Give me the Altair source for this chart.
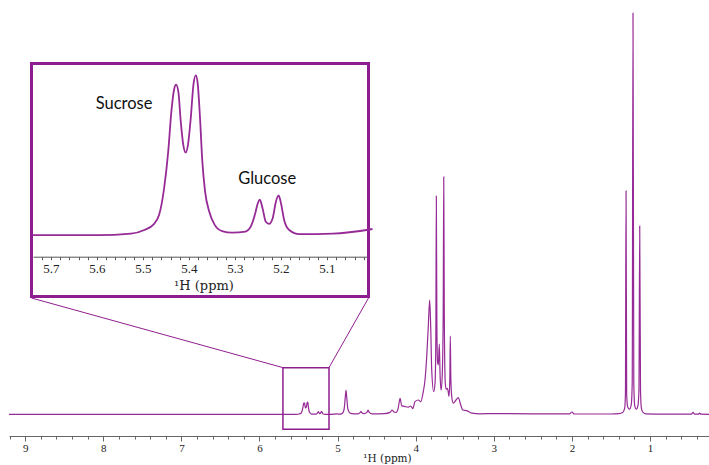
import altair as alt
import pandas as pd

# ---------------- data ----------------
# main spectrum (ppm, intensity) outside the zoomed window
ppm_main = [9.207, 7.5, 6.0, 5.76,
            4.98, 4.95, 4.93, 4.915, 4.903, 4.892, 4.882, 4.87, 4.85, 4.82,
            4.74, 4.71, 4.70, 4.69, 4.66, 4.625, 4.61, 4.595, 4.56,
            4.40, 4.33, 4.30, 4.28, 4.25, 4.225, 4.20, 4.18, 4.137, 4.095, 4.064, 4.038,
            4.009, 3.966, 3.936, 3.903, 3.881, 3.859, 3.839, 3.821, 3.808, 3.795,
            3.770, 3.752, 3.742, 3.736, 3.729, 3.720, 3.710, 3.698, 3.688, 3.675,
            3.660, 3.648, 3.641, 3.634, 3.622, 3.610, 3.595, 3.585, 3.574, 3.563,
            3.557, 3.550, 3.539, 3.519, 3.484, 3.455, 3.424, 3.398, 3.347, 3.283,
            3.177, 3.0, 2.5, 2.03, 2.0, 1.97, 1.5, 1.40, 1.35, 1.325, 1.315, 1.307,
            1.299, 1.285, 1.262, 1.24, 1.228, 1.218, 1.208, 1.196, 1.175, 1.155,
            1.142, 1.132, 1.122, 1.11, 1.09, 1.05, 0.8, 0.47, 0.45, 0.43, 0.38,
            0.365, 0.35, 0.245]
int_main = [0.0, 0.0, 0.0, 0.0,
            0.05, 0.15, 0.5, 1.5, 4.0, 6.0, 4.0, 1.5, 0.5, 0.2,
            0.15, 0.5, 0.75, 0.4, 0.2, 0.5, 1.1, 0.5, 0.15,
            0.2, 0.5, 1.1, 0.6, 0.5, 1.5, 4.0, 2.2, 1.95, 1.8, 2.1, 1.45,
            3.2, 3.6, 3.2, 5.7, 8.6, 14.5, 22.0, 28.6, 22.0, 11.1,
            5.7, 8.0, 20.0, 54.6, 22.0, 13.0, 12.4, 17.6, 10.0, 6.1,
            10.0, 25.0, 59.4, 25.0, 8.0, 6.3, 6.5, 5.8, 4.5, 9.0,
            19.6, 9.0, 4.5, 2.8, 3.6, 4.2, 2.4, 1.1, 0.95, 0.3,
            0.15, 0.2, 0.15, 0.15, 0.6, 0.1, 0.1, 0.2, 0.5, 1.5, 5.0, 55.9,
            5.0, 1.8, 1.3, 2.5, 8.0, 100.4, 8.0, 2.2, 1.3, 2.2,
            6.0, 47.1, 6.0, 1.5, 0.5, 0.15, 0.05, 0.05, 0.5, 0.05, 0.05,
            0.35, 0.05, 0.0]

# zoomed window (at higher resolution)
ppm_zoom = [5.739, 5.599, 5.526, 5.497, 5.478, 5.465, 5.454, 5.445, 5.438, 5.432,
            5.428, 5.423, 5.418, 5.412, 5.407, 5.402, 5.396, 5.390, 5.385, 5.381,
            5.376, 5.371, 5.365, 5.356, 5.344, 5.328, 5.306, 5.277, 5.266, 5.256,
            5.251, 5.246, 5.240, 5.233, 5.226, 5.218, 5.211, 5.205, 5.200, 5.193,
            5.182, 5.160, 5.087, 5.001]
int_zoom = [0.0, 0.0, 0.03, 0.10, 0.20, 0.39, 0.91, 1.63, 2.42, 2.84,
            2.92, 2.78, 2.22, 1.73, 1.60, 1.76, 2.28, 2.94, 3.10, 2.94,
            2.28, 1.44, 0.85, 0.46, 0.20, 0.08, 0.05, 0.07, 0.16, 0.42,
            0.60, 0.69, 0.52, 0.26, 0.22, 0.33, 0.65, 0.77, 0.62, 0.29,
            0.10, 0.02, 0.03, 0.12]

label_text = ["Sucrose", "Glucose"]
label_ppm = [5.541, 5.230]
label_int = [2.54, 1.09]

# zoom window marked on the main spectrum
box_ppm = [5.70, 5.11]
box_int = [11.7, -3.7]

# ---------------- layout ----------------
W, H = 700, 431
XD = [9.207, 0.245]
YD = [-5.4, 102.4]
IX_RANGE = [24, 358]
IY_RANGE = [251.7, 61]
IXD = [5.739, 5.013]
IYD = [-0.417, 3.28]
LINE = "#962A96"
FRAME = "#8E1E8E"

def px(p):
    return (XD[0] - p) / (XD[0] - XD[1]) * W

def py(v):
    return (YD[1] - v) / (YD[1] - YD[0]) * H

spec = pd.DataFrame({"ppm": ppm_main + ppm_zoom, "intensity": int_main + int_zoom})
spec = spec.sort_values("ppm", ascending=False).reset_index(drop=True)
zoom_df = pd.DataFrame({"ppm": ppm_zoom, "intensity": int_zoom})
labels_df = pd.DataFrame({"t": label_text, "ppm": label_ppm, "intensity": label_int})
box_df = pd.DataFrame({"p1": [box_ppm[0]], "p2": [box_ppm[1]], "i1": [box_int[0]], "i2": [box_int[1]]})
one = pd.DataFrame({"a": [0]})

xs_main = lambda: alt.Scale(domain=XD, nice=False, zero=False)
ys_main = lambda: alt.Scale(domain=YD, nice=False, zero=False)
xs_in = lambda: alt.Scale(domain=IXD, range=IX_RANGE, nice=False, zero=False)
ys_in = lambda: alt.Scale(domain=IYD, range=IY_RANGE, nice=False, zero=False)

minor_vals = [round(0.4 + 0.2 * i, 1) for i in range(45)]
major_vals = [1, 2, 3, 4, 5, 6, 7, 8, 9]
inset_vals = [round(5.02 + 0.02 * i, 2) for i in range(36)]

main_axis = alt.Axis(
    values=minor_vals, orient="bottom",
    labelExpr="abs(datum.value - round(datum.value)) < 0.001 ? format(datum.value, 'd') : ''",
    tickSize=3, tickColor="#666", domainColor="#666", grid=False,
    labelFont="Liberation Serif", labelFontSize=11, labelColor="#222",
    labelPadding=3, labelOverlap=False, labelFlush=False,
    title="¹H (ppm)", titleFont="DejaVu Serif", titleFontSize=10.5,
    titleFontWeight="normal", titleColor="#222", titleX=378, titlePadding=0,
)
major_axis = alt.Axis(values=major_vals, orient="bottom", tickSize=5, tickColor="#666",
                      labels=False, domain=False, grid=False, title=None)
inset_axis = alt.Axis(
    values=inset_vals, orient="bottom", offset=IY_RANGE[0] - H, zindex=1,
    labelExpr="abs(datum.value * 10 - round(datum.value * 10)) < 0.001 ? format(datum.value, '.1f') : ''",
    tickSize=3, tickColor="#555", domainColor="#555", grid=False,
    labelFont="Liberation Serif", labelFontSize=13, labelColor="#222",
    labelPadding=3, labelOverlap=False, labelFlush=False,
    title="¹H (ppm)", titleFont="DejaVu Serif", titleFontSize=13,
    titleFontWeight="normal", titleColor="#222", titleX=194.5, titleY=32.5,
    titleBaseline="alphabetic",
)

main_line = alt.Chart(spec).mark_line(color=LINE, strokeWidth=1.2, interpolate="monotone").encode(
    x=alt.X("ppm:Q", scale=xs_main(), axis=main_axis),
    y=alt.Y("intensity:Q", scale=ys_main(), axis=None),
)

zoom_box = alt.Chart(box_df).mark_rect(fillOpacity=0, stroke=FRAME, strokeWidth=1.5).encode(
    x=alt.X("p1:Q", scale=xs_main(), axis=major_axis),
    x2="p2:Q",
    y=alt.Y("i1:Q", scale=ys_main(), axis=None),
    y2="i2:Q",
)

# inset frame & connectors (layout)
FL, FR, FT, FB = 22.5, 359.5, 58.5, 291.5
frame = alt.Chart(one).mark_rect(fillOpacity=0, stroke=FRAME, strokeWidth=3).encode(
    x=alt.value(FL), x2=alt.value(FR), y=alt.value(FT), y2=alt.value(FB)
)
conn_l = alt.Chart(one).mark_rule(color=FRAME, strokeWidth=1).encode(
    x=alt.value(FL), y=alt.value(FB + 1.5), x2=alt.value(px(box_ppm[0])), y2=alt.value(py(box_int[0]))
)
conn_r = alt.Chart(one).mark_rule(color=FRAME, strokeWidth=1).encode(
    x=alt.value(FR), y=alt.value(FB + 1.5), x2=alt.value(px(box_ppm[1])), y2=alt.value(py(box_int[0]))
)

inset_line = alt.Chart(zoom_df).mark_line(color=LINE, strokeWidth=1.8, interpolate="monotone", clip=True).encode(
    x=alt.X("ppm:Q", scale=xs_in(), axis=inset_axis),
    y=alt.Y("intensity:Q", scale=ys_in(), axis=None),
)

labels = alt.Chart(labels_df).mark_text(font="Lato", fontSize=16.5, color="#111").encode(
    x=alt.X("ppm:Q", scale=xs_in(), axis=None),
    y=alt.Y("intensity:Q", scale=ys_in(), axis=None),
    text="t:N",
)

chart = alt.layer(main_line, zoom_box, conn_l, conn_r, frame, inset_line, labels).resolve_scale(
    x="independent", y="independent"
).properties(
    width=W, height=H,
    autosize=alt.AutoSizeParams(type="none"),
    padding={"left": 9, "top": 5, "right": 0, "bottom": 29},
    background="white",
).configure_view(stroke=None)

chart.save("out.html", embed_options={"renderer": "svg", "actions": False})
